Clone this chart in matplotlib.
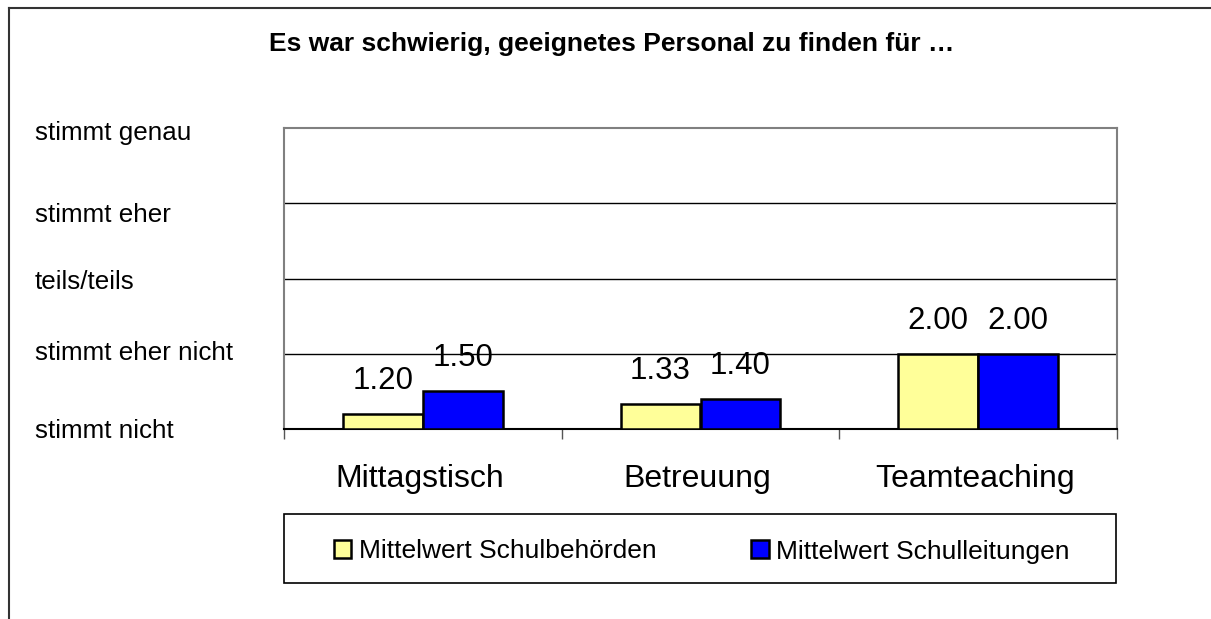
import matplotlib
matplotlib.use("Agg")
import matplotlib.pyplot as plt
from matplotlib.lines import Line2D
from matplotlib.patches import Rectangle
from matplotlib.transforms import blended_transform_factory
import numpy as np

plt.rcParams['font.family'] = ['Liberation Sans', 'DejaVu Sans']

title = "Es war schwierig, geeignetes Personal zu finden für …"
categories = ["Mittagstisch", "Betreuung", "Teamteaching"]
schulbehoerden = [1.20, 1.33, 2.00]
schulleitungen = [1.50, 1.40, 2.00]
series_names = ["Mittelwert Schulbehörden", "Mittelwert Schulleitungen"]
scale_levels = [1, 2, 3, 4, 5]
scale_labels = ["stimmt nicht", "stimmt eher nicht", "teils/teils",
                "stimmt eher", "stimmt genau"]
# where the scale labels sit (they are not exactly on the grid lines)
scale_label_pos = [0.97, 2.01, 2.96, 3.85, 4.93]

W, H = 1211, 619
fig = plt.figure(figsize=(W / 100, H / 100), dpi=100)
fig.patch.set_facecolor("white")

ax = fig.add_axes([284 / W, 1 - 429 / H, 833 / W, 301 / H])

x = np.arange(len(categories))
bw = 0.288
b1 = ax.bar(x - bw / 2, np.array(schulbehoerden) - 1, bw, bottom=1,
            color="#FFFF99", edgecolor="black", linewidth=1.8, zorder=3,
            label=series_names[0])
b2 = ax.bar(x + bw / 2, np.array(schulleitungen) - 1, bw, bottom=1,
            color="#0000FF", edgecolor="black", linewidth=1.8, zorder=3,
            label=series_names[1])

for bars, vals in ((b1, schulbehoerden), (b2, schulleitungen)):
    for r, v in zip(bars, vals):
        ax.annotate(f"{v:.2f}", (r.get_x() + r.get_width() / 2, v),
                    xytext=(0, 33), textcoords="offset pixels",
                    ha="center", va="center", fontsize=22.5, zorder=4)

ax.set_xlim(-0.5, len(categories) - 0.5)
ax.set_ylim(1, 5)
for lv in scale_levels[1:-1]:
    ax.axhline(lv, color="black", linewidth=1.0, zorder=1)

ax.set_yticks([])
ax.set_xticks(np.arange(len(categories) + 1) - 0.5)
ax.set_xticklabels([])
ax.tick_params(axis="x", which="major", length=7, width=1, color="#555555",
               direction="out")
ax.set_xticks(x - 0.012, categories, minor=True)
ax.tick_params(axis="x", which="minor", length=0, pad=25, labelsize=23)

for s in ("left", "top", "right"):
    ax.spines[s].set_color("#808080")
    ax.spines[s].set_linewidth(1.5)
ax.spines["bottom"].set_color("black")
ax.spines["bottom"].set_linewidth(1.5)

trans = blended_transform_factory(fig.transFigure, ax.transData)
for pos, lab in zip(scale_label_pos, scale_labels):
    ax.text(35 / W, pos, lab, transform=trans, ha="left", va="center",
            fontsize=18.7, clip_on=False)

fig.text(612 / W, 1 - 44 / H, title, ha="center", va="center",
         fontsize=19, fontweight="bold")

# legend frame + entries
lx0, lx1, ly0, ly1 = 284, 1116, 514, 583
fig.add_artist(Rectangle((lx0 / W, 1 - ly1 / H), (lx1 - lx0) / W,
                         (ly1 - ly0) / H, transform=fig.transFigure,
                         facecolor="white", edgecolor="black", linewidth=1.2))
fig.legend(handles=[b1, b2], labels=series_names, ncol=2, mode="expand",
           loc="center", bbox_to_anchor=((lx0 + 50) / W, 1 - (ly1 + 3) / H,
                                         (lx1 - lx0 - 96) / W, (ly1 - ly0) / H),
           borderaxespad=0, borderpad=0, frameon=False, fontsize=19,
           handlelength=0.65, handleheight=0.65, handletextpad=0.3)

# outer frame (left and top edges)
fig.add_artist(Line2D([9 / W, 9 / W], [0, 1 - 8 / H], transform=fig.transFigure,
                      color="#333333", linewidth=1.5))
fig.add_artist(Line2D([9 / W, 1], [1 - 8 / H, 1 - 8 / H],
                      transform=fig.transFigure, color="#333333", linewidth=1.5))

fig.savefig("out.png", dpi=100)
